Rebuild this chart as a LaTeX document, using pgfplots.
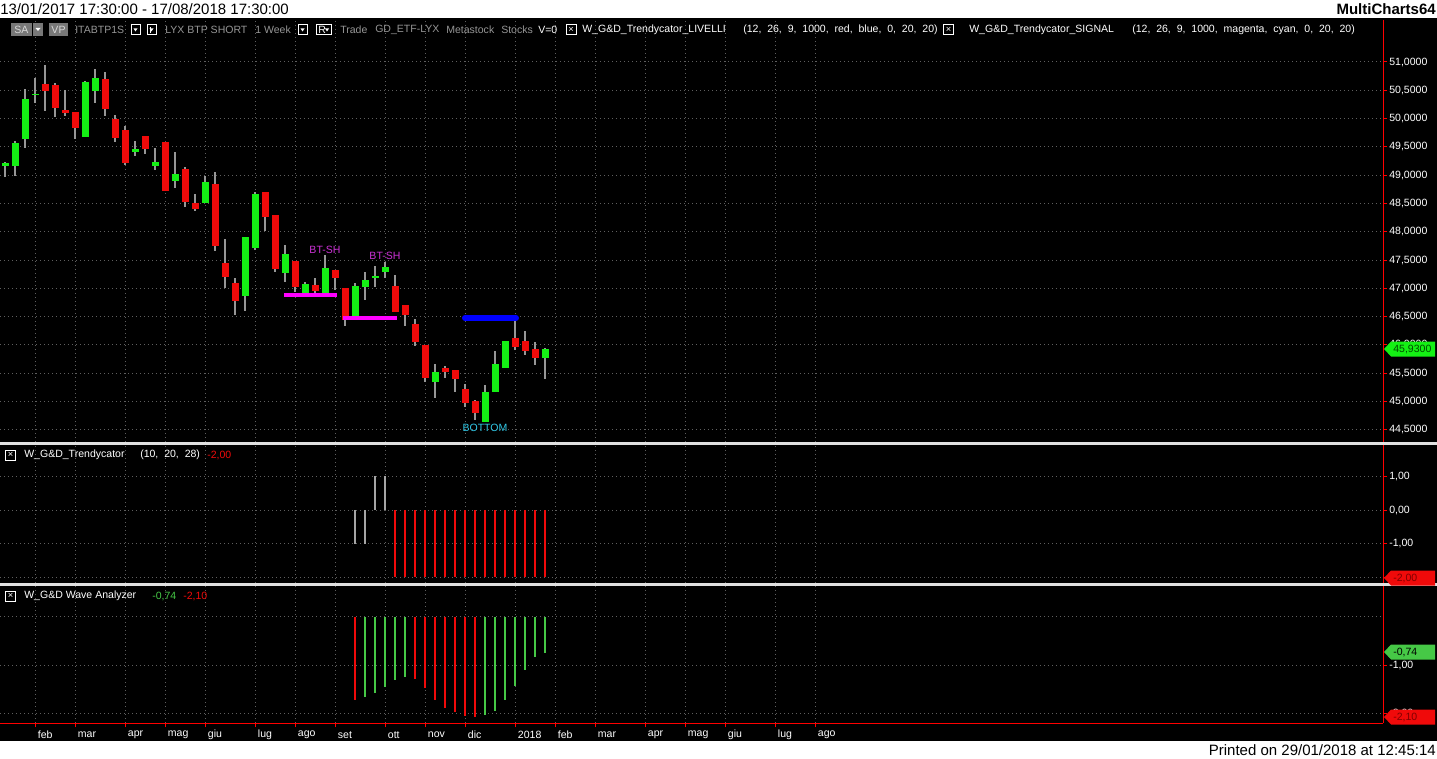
\documentclass[border=0pt]{standalone}
\usepackage{pgfplots}
\pgfplotsset{compat=1.18}
\usepackage{pgfplotstable}
\usepackage{fontspec}
\setmainfont{Liberation Sans}
\definecolor{upc}{RGB}{20,240,20}
\definecolor{dnc}{RGB}{240,10,10}
\definecolor{wickc}{RGB}{150,150,150}
\definecolor{gridc}{RGB}{95,95,95}
\definecolor{wgreen}{RGB}{70,200,70}
\definecolor{tgray}{RGB}{165,165,165}
\definecolor{hdrgray}{RGB}{150,150,150}
\definecolor{sagray}{RGB}{120,120,120}
\definecolor{btsh}{RGB}{205,50,215}
\definecolor{bottomc}{RGB}{50,200,230}
\definecolor{magl}{RGB}{255,0,255}
\definecolor{bluel}{RGB}{0,0,255}
\definecolor{sepc}{RGB}{225,225,225}
\newcommand\lab{\fontsize{7.9}{9}\selectfont}
\newcommand\ttl{\fontsize{11.25}{13}\selectfont}

\pgfplotstableread{
i o h l c
1 49.162 49.233 48.968 49.215
2 49.162 49.604 48.986 49.569
3 49.640 50.523 49.481 50.346
4 50.417 50.717 50.276 50.435
9 49.675 50.664 49.675 50.647
10 50.488 50.876 50.276 50.717
14 49.410 49.604 49.339 49.463
16 49.162 49.481 49.092 49.233
18 48.898 49.410 48.774 49.021
21 48.509 48.986 48.509 48.880
25 46.866 47.908 46.601 47.908
26 47.714 48.703 47.678 48.668
29 47.272 47.767 47.113 47.608
31 46.919 47.113 46.919 47.078
33 46.919 47.590 46.919 47.360
36 46.512 47.095 46.512 47.042
37 47.025 47.290 46.795 47.148
38 47.201 47.396 47.025 47.219
39 47.290 47.466 47.184 47.378
44 45.346 45.664 45.064 45.523
49 44.639 45.293 44.639 45.170
50 45.170 45.894 45.170 45.664
51 45.593 46.071 45.593 46.071
55 45.770 45.950 45.399 45.930
}\upt
\pgfplotstableread{
i o h l c
5 50.611 50.947 50.134 50.488
6 50.594 50.629 50.028 50.187
7 50.152 50.505 50.046 50.099
8 50.117 50.117 49.640 49.834
11 50.700 50.823 50.046 50.170
12 49.993 50.064 49.587 49.657
13 49.799 49.869 49.180 49.215
15 49.693 49.693 49.374 49.463
17 49.587 49.587 48.721 48.721
19 49.110 49.145 48.438 48.526
20 48.509 48.668 48.368 48.403
22 48.844 49.057 47.661 47.749
23 47.449 47.873 47.007 47.201
24 47.095 47.184 46.530 46.777
27 48.703 48.703 48.014 48.261
28 48.297 48.297 47.290 47.343
30 47.484 47.484 46.936 47.025
32 47.060 47.184 46.919 46.954
34 47.325 47.325 46.972 47.184
35 47.007 47.007 46.336 46.442
40 47.042 47.237 46.583 46.583
41 46.707 46.707 46.336 46.530
42 46.371 46.459 45.982 46.053
43 46.000 46.000 45.346 45.417
45 45.593 45.628 45.417 45.523
46 45.558 45.558 45.170 45.399
47 45.223 45.311 44.905 44.975
48 45.010 45.028 44.675 44.799
52 46.124 46.424 45.912 45.965
53 46.071 46.247 45.823 45.894
54 45.929 46.053 45.646 45.770
}\dnt

\pgfplotsset{mc/.style={
  scale only axis, width=1037.25pt, xmin=0.5, xmax=138.8,
  axis x line*=bottom, axis y line*=right,
  x axis line style={draw=none}, y axis line style={draw=none},
  xtick={4,8,13,17,21,26,30,34,39,43,47,52,56,60,65,69,73,78,82},
  xticklabels={}, xtick style={draw=none},
  ytick style={draw=red, line width=0.75pt},
  major tick length=3pt, tick align=outside,
  xmajorgrids, ymajorgrids,
  major grid style={draw=gridc, line width=0.75pt, dash pattern=on 0.75pt off 2.25pt},
  yticklabel style={text=white, font=\lab, anchor=west, inner sep=0pt, xshift=1.5pt},
  clip=true,
}}
\newcommand\xbox[2]{%
  \draw[white, line width=0.75pt] (#1-5,#2-5) rectangle (#1+5,#2+5);
  \node[text=white, font=\fontsize{7}{7}\selectfont, inner sep=0pt] at (#1,#2) {×};}
\newcommand\ddbox[2]{% left x, center y
  \draw[white, line width=0.75pt] (#1,#2-5) rectangle (#1+9,#2+5);
  \fill[white] (#1+2.5,#2+1.5) -- (#1+6.5,#2+1.5) -- (#1+4.5,#2-1.5) -- cycle;}
\newcommand\valbox[4]{%
  \fill[#2] (1384,758-#1) -- (1391,758-#1+7.5) -- (1435,758-#1+7.5) -- (1435,758-#1-7.5) -- (1391,758-#1-7.5) -- cycle;
  \node[anchor=west, text=#3, font=\lab, inner sep=0pt] at (1393,758-#1) {#4};}

\begin{document}
\begin{tikzpicture}[x=0.75pt, y=0.75pt]
\useasboundingbox (0,0) rectangle (1437,758);
\fill[white] (0,0) rectangle (1437,758);
\fill[black] (0,17) rectangle (1437,740);

% ---------------- price panel
\begin{axis}[mc, at={(0pt,237pt)}, anchor=south west, height=316.5pt,
  ymin=44.286, ymax=51.742,
  ytick={44.5,45,45.5,46,46.5,47,47.5,48,48.5,49,49.5,50,50.5,51},
  yticklabels={{44,5000},{45,0000},{45,5000},{46,0000},{46,5000},{47,0000},{47,5000},{48,0000},{48,5000},{49,0000},{49,5000},{50,0000},{50,5000},{51,0000}},
]
% wicks
\addplot[draw=none, mark=none, forget plot, error bars/.cd, y dir=both, y explicit, error mark=none,
  error bar style={draw=wickc, line width=0.9pt}]
  table[x=i, y expr={(\thisrow{h}+\thisrow{l})/2}, y error expr={(\thisrow{h}-\thisrow{l})/2}] {\upt};
\addplot[draw=none, mark=none, forget plot, error bars/.cd, y dir=both, y explicit, error mark=none,
  error bar style={draw=wickc, line width=0.9pt}]
  table[x=i, y expr={(\thisrow{h}+\thisrow{l})/2}, y error expr={(\thisrow{h}-\thisrow{l})/2}] {\dnt};
% bodies
\addplot[draw=none, mark=none, forget plot, error bars/.cd, y dir=both, y explicit, error mark=none,
  error bar style={draw=upc, line width=5.25pt}]
  table[x=i, y expr={(\thisrow{o}+\thisrow{c})/2}, y error expr={max(abs(\thisrow{o}-\thisrow{c})/2,0.015)}] {\upt};
\addplot[draw=none, mark=none, forget plot, error bars/.cd, y dir=both, y explicit, error mark=none,
  error bar style={draw=dnc, line width=5.25pt}]
  table[x=i, y expr={(\thisrow{o}+\thisrow{c})/2}, y error expr={max(abs(\thisrow{o}-\thisrow{c})/2,0.015)}] {\dnt};
% levels
\addplot[magl, line width=3pt, mark=none] coordinates {(28.9,46.883) (34.2,46.883)};
\addplot[magl, line width=3pt, mark=none] coordinates {(34.8,46.477) (40.2,46.477)};
\addplot[bluel, line width=4.5pt, line cap=round, mark=none] coordinates {(47.0,46.477) (52.1,46.477)};
\node[text=btsh, font=\lab, inner sep=0pt] at (axis cs:33,47.678) {BT-SH};
\node[text=btsh, font=\lab, inner sep=0pt] at (axis cs:39,47.572) {BT-SH};
\node[text=bottomc, font=\lab, inner sep=0pt] at (axis cs:49,44.533) {BOTTOM};
\end{axis}

% ---------------- trendycator panel
\begin{axis}[mc, at={(0pt,131.25pt)}, anchor=south west, height=103.5pt,
  ymin=-2.166, ymax=1.929,
  ytick={-2,-1,0,1}, yticklabels={{-2,00},{-1,00},{0,00},{1,00}},
]
\addplot[ycomb, draw=tgray, line width=1.5pt, mark=none] coordinates {(36,-1) (37,-1) (38,1) (39,1)};
\addplot[ycomb, draw=dnc, line width=1.5pt, mark=none] coordinates {
(40,-2) (41,-2) (42,-2) (43,-2) (44,-2) (45,-2) (46,-2) (47,-2)
(48,-2) (49,-2) (50,-2) (51,-2) (52,-2) (53,-2) (54,-2) (55,-2)};
\end{axis}

% ---------------- wave analyzer panel
\begin{axis}[mc, at={(0pt,26.25pt)}, anchor=south west, height=102.75pt,
  ymin=-2.186, ymax=0.639,
  ytick={-2,-1}, yticklabels={{-2,00},{-1,00}},
  extra y ticks={0}, extra y tick labels={}, extra y tick style={major tick length=0pt},
  x axis line style={draw=red, line width=0.75pt},
  xtick style={draw=red, line width=0.75pt},
  xticklabels={feb,mar,apr,mag,giu,lug,ago,set,ott,nov,dic,2018,feb,mar,apr,mag,giu,lug,ago},
  xticklabel style={text=white, font=\lab, anchor=west, inner sep=0pt, xshift=2pt, yshift=-6pt},
]
\addplot[ycomb, draw=dnc, line width=1.5pt, mark=none] coordinates {
(36,-1.72) (42,-1.28) (43,-1.46) (44,-1.72) (45,-1.87) (46,-1.95) (47,-2.05) (48,-2.07)};
\addplot[ycomb, draw=wgreen, line width=1.5pt, mark=none] coordinates {
(37,-1.65) (38,-1.56) (39,-1.44) (40,-1.30) (41,-1.23) (49,-2.02) (50,-1.93) (51,-1.72)
(52,-1.42) (53,-1.09) (54,-0.83) (55,-0.74)};
\end{axis}

% right axis line and separators
\draw[red, line width=0.75pt] (1383,738) -- (1383,35);
\fill[sepc] (0,758-445) rectangle (1437,758-442);
\fill[sepc] (0,758-586) rectangle (1437,758-583);

% value boxes
\valbox{349}{upc}{black!70!green}{45,9300}
\valbox{578}{dnc}{red!50!black}{-2,00}
\valbox{652}{wgreen}{black}{-0,74}
\valbox{717}{dnc}{red!50!black}{-2,10}

% header row
\fill[sagray] (11,722) rectangle (32,735);
\node[text=white!85!black, font=\lab, inner sep=0pt] at (21.5,728.5) {SA};
\fill[sagray] (33,722) rectangle (43,735);
\fill[white] (35.5,730) -- (40.5,730) -- (38,727) -- cycle;
\fill[sagray] (49,722) rectangle (68,735);
\node[text=white!85!black, font=\lab, inner sep=0pt] at (58.5,728.5) {VP};
\node[anchor=west, text=hdrgray, font=\lab, inner sep=0pt] at (75,728) {ITABTP1S};
\ddbox{131}{728}
\ddbox{147}{728}
\draw[white, line width=0.75pt] (150,725) -- (150,731);
\node[anchor=west, text=hdrgray, font=\lab, inner sep=0pt] at (165,728) {LYX BTP SHORT};
\node[anchor=west, text=hdrgray, font=\lab, inner sep=0pt] at (255,728) {1 Week};
\ddbox{298}{728}
\draw[white, line width=0.75pt] (316,723) rectangle (331,733);
\node[anchor=west, text=white, font=\lab, inner sep=0pt] at (318,728) {R};
\fill[white] (325,729.5) -- (329,729.5) -- (327,726.5) -- cycle;
\node[anchor=west, text=hdrgray, font=\lab, inner sep=0pt] at (340,728) {Trade};
\node[anchor=west, text=hdrgray, font=\lab, inner sep=0pt] at (375,728) {GD\_ETF-LYX};
\node[anchor=west, text=hdrgray, font=\lab, inner sep=0pt] at (446,728) {Metastock};
\node[anchor=west, text=hdrgray, font=\lab, inner sep=0pt] at (501,728) {Stocks};
\node[anchor=west, text=white, font=\lab, inner sep=0pt] at (538,728) {V=0};
\xbox{571}{728}
\node[anchor=west, text=white, font=\lab, inner sep=0pt] at (582,728) {W\_G\&D\_Trendycator\_LIVELLI};
\node[anchor=west, text=white, font=\lab, inner sep=0pt] at (743,728) {(12,\ \ 26,\ \ 9,\ \ 1000,\ \ red,\ \ blue,\ \ 0,\ \ 20,\ \ 20)};
\xbox{948.5}{728}
\node[anchor=west, text=white, font=\lab, inner sep=0pt] at (969,728) {W\_G\&D\_Trendycator\_SIGNAL};
\node[anchor=west, text=white, font=\lab, inner sep=0pt] at (1132,728) {(12,\ \ 26,\ \ 9,\ \ 1000,\ \ magenta,\ \ cyan,\ \ 0,\ \ 20,\ \ 20)};

% panel headers
\xbox{10.5}{303}
\node[anchor=west, text=white, font=\lab, inner sep=0pt] at (24,303) {W\_G\&D\_Trendycator};
\node[anchor=west, text=white, font=\lab, inner sep=0pt] at (140,303) {(10,\ \ 20,\ \ 28)};
\node[anchor=west, text=dnc, font=\lab, inner sep=0pt] at (207,303) {-2,00};
\xbox{10.5}{162}
\node[anchor=west, text=white, font=\lab, inner sep=0pt] at (24,162) {W\_G\&D Wave Analyzer};
\node[anchor=west, text=wgreen, font=\lab, inner sep=0pt] at (152,162) {-0,74};
\node[anchor=west, text=dnc, font=\lab, inner sep=0pt] at (183,162) {-2,10};

% title strip
\node[anchor=west, font=\ttl, inner sep=0pt] at (0,749) {13/01/2017 17:30:00 - 17/08/2018 17:30:00};
\node[anchor=east, font=\ttl\bfseries, inner sep=0pt] at (1436,749) {MultiCharts64};
\node[anchor=east, font=\ttl, inner sep=0pt] at (1436,8) {Printed on 29/01/2018 at 12:45:14};
\end{tikzpicture}
\end{document}
